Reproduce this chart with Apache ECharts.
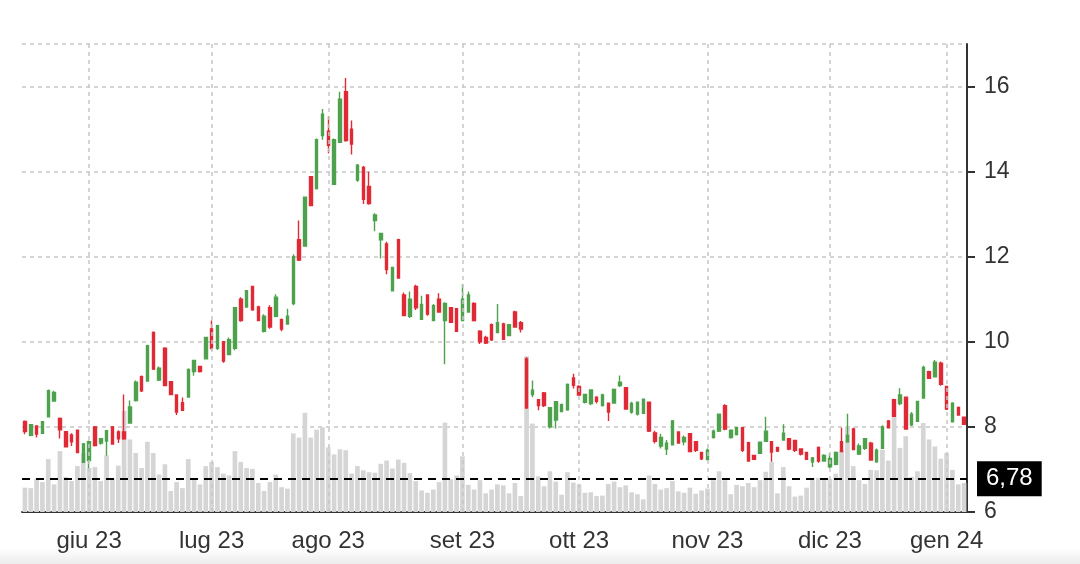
<!DOCTYPE html>
<html>
<head>
<meta charset="utf-8">
<title>Grafico</title>
<script src="https://cdn.jsdelivr.net/npm/echarts/dist/echarts.min.js"></script>
<style>
html, body { margin: 0; padding: 0; background: #fff; }
#chart { width: 1080px; height: 564px; }
</style>
</head>
<body>
<div id="chart"></div>
<script>
// giorni di borsa (lun-ven, esclusi i festivi)
var festivi = ['2023-05-29', '2023-06-19', '2023-07-04', '2023-09-04', '2023-11-23', '2023-12-25', '2024-01-01'];
var mesi = ['gen', 'feb', 'mar', 'apr', 'mag', 'giu', 'lug', 'ago', 'set', 'ott', 'nov', 'dic'];

var giorni = [];
for (var d = new Date(Date.UTC(2023, 4, 16)); d <= new Date(Date.UTC(2024, 0, 5)); d.setUTCDate(d.getUTCDate() + 1)) {
    var s = d.toISOString().slice(0, 10);
    if (d.getUTCDay() === 0 || d.getUTCDay() === 6 || festivi.indexOf(s) >= 0) continue;
    giorni.push(s);
}

// prezzi
var aperture = [8.13, 7.80, 8.02, 7.85, 8.24, 8.61, 8.20, 7.89, 7.81, 7.92, 7.17, 7.21, 8.00, 7.62, 7.67, 8.00, 7.88, 7.88, 8.09, 8.62,
    9.18, 9.08, 10.22, 9.10, 9.85, 9.06, 8.75, 8.57, 8.70, 9.30, 9.42, 9.60, 10.30, 9.85, 10.00, 9.70, 9.85, 11.00, 10.82, 11.30,
    10.82, 10.25, 10.80, 10.60, 10.52, 10.42, 10.90, 12.40, 12.25, 13.88, 13.60, 14.85, 14.95, 13.70, 14.69, 15.88, 15.00, 13.80, 14.10, 13.65,
    12.85, 12.40, 12.30, 11.20, 12.40, 11.10, 10.60, 11.30, 10.53, 11.10, 10.50, 11.00, 10.50, 10.80, 10.78, 10.50, 10.70, 10.90, 10.25, 10.10,
    10.40, 10.22, 10.42, 10.15, 10.70, 10.45, 9.60, 8.76, 8.64, 8.80, 8.00, 8.16, 8.36, 8.40, 9.15, 8.95, 8.58, 8.55, 8.70, 8.50,
    8.56, 8.56, 8.97, 8.92, 8.35, 8.30, 8.32, 8.58, 7.86, 7.55, 7.48, 7.58, 7.88, 7.65, 7.84, 7.65, 7.40, 7.23, 7.75, 7.90,
    8.50, 7.75, 7.82, 7.98, 7.63, 7.33, 7.38, 7.66, 7.65, 7.52, 7.69, 7.72, 7.68, 7.48, 7.40, 7.18, 7.52, 7.20, 7.06, 7.12,
    7.65, 7.65, 7.95, 7.36, 7.50, 7.62, 7.18, 7.50, 8.14, 8.64, 8.55, 8.70, 8.05, 8.13, 8.68, 9.30, 9.18, 9.50, 8.95, 8.12,
    8.46, 8.23];
var chiusure = [7.89, 8.05, 7.83, 8.12, 8.85, 8.81, 7.93, 7.53, 7.65, 7.40, 7.60, 7.65, 7.56, 7.72, 7.91, 7.60, 7.72, 7.72, 8.47, 9.05,
    8.85, 9.91, 9.36, 9.38, 8.97, 8.76, 8.35, 8.39, 9.35, 9.56, 9.30, 10.10, 9.85, 10.38, 9.55, 10.05, 10.80, 10.50, 11.20, 10.75,
    10.50, 10.60, 10.35, 11.05, 10.30, 10.60, 12.00, 11.92, 13.40, 13.20, 14.75, 15.35, 14.62, 14.75, 15.70, 14.73, 14.65, 14.15, 13.35, 13.25,
    12.98, 12.55, 11.70, 11.75, 11.50, 10.62, 11.00, 10.80, 10.88, 10.65, 10.85, 10.70, 10.90, 10.46, 10.25, 11.00, 11.10, 10.50, 10.00, 9.97,
    10.05, 10.45, 10.06, 10.40, 10.35, 10.30, 8.45, 8.86, 8.50, 8.50, 8.45, 8.59, 8.52, 9.00, 8.98, 8.75, 8.76, 8.87, 8.60, 8.75,
    8.35, 8.88, 9.05, 8.42, 8.55, 8.58, 8.65, 7.90, 7.66, 7.75, 7.62, 8.14, 7.62, 7.75, 7.42, 7.45, 7.25, 7.45, 7.90, 8.30,
    7.95, 7.92, 7.98, 7.45, 7.20, 7.24, 7.64, 7.90, 7.41, 7.43, 7.85, 7.48, 7.45, 7.36, 7.24, 7.27, 7.20, 7.33, 7.26, 7.40,
    7.42, 7.80, 7.47, 7.55, 7.72, 7.22, 7.45, 8.00, 7.98, 8.25, 8.75, 7.95, 8.30, 8.60, 9.40, 9.14, 9.52, 9.00, 8.42, 8.56,
    8.28, 8.06];
var minimi = [7.83, 7.78, 7.75, 7.84, 8.22, 8.60, 7.73, 7.52, 7.55, 7.38, 7.15, 7.02, 7.54, 7.58, 7.32, 7.58, 7.62, 7.70, 8.08, 8.60,
    8.82, 9.07, 9.34, 9.08, 8.96, 8.75, 8.28, 8.38, 8.69, 9.20, 9.28, 9.59, 9.80, 9.81, 9.51, 9.69, 9.80, 10.47, 10.80, 10.73,
    10.49, 10.22, 10.31, 10.58, 10.25, 10.40, 10.86, 11.90, 12.24, 13.19, 13.58, 14.75, 14.43, 13.69, 14.68, 14.70, 14.40, 13.76, 13.24, 13.22,
    12.60, 11.96, 11.59, 11.20, 11.49, 10.61, 10.56, 10.75, 10.51, 10.61, 10.49, 10.69, 9.47, 10.45, 10.24, 10.49, 10.69, 10.48, 9.95, 9.95,
    10.02, 10.21, 10.05, 10.14, 10.34, 10.22, 8.42, 8.70, 8.39, 8.47, 7.96, 7.96, 8.35, 8.38, 8.90, 8.74, 8.55, 8.51, 8.55, 8.48,
    8.14, 8.55, 8.94, 8.41, 8.31, 8.27, 8.31, 7.88, 7.61, 7.49, 7.34, 7.57, 7.61, 7.57, 7.41, 7.41, 7.22, 7.22, 7.73, 7.88,
    7.92, 7.73, 7.80, 7.41, 7.18, 7.22, 7.37, 7.65, 7.18, 7.41, 7.68, 7.45, 7.41, 7.33, 7.22, 7.06, 7.16, 7.18, 7.03, 7.10,
    7.41, 7.63, 7.46, 7.34, 7.46, 7.21, 7.16, 7.49, 7.96, 8.23, 8.51, 7.94, 8.02, 8.12, 8.66, 9.13, 9.17, 8.97, 8.40, 8.12,
    8.27, 8.06];
var massimi = [8.15, 8.07, 8.04, 8.14, 8.88, 8.85, 8.22, 7.90, 7.85, 7.93, 7.62, 7.68, 8.02, 7.74, 7.92, 8.02, 7.92, 8.76, 8.62, 9.09,
    9.21, 9.93, 10.24, 9.42, 9.87, 9.08, 8.77, 8.69, 9.37, 9.57, 9.44, 10.12, 10.50, 10.40, 10.02, 10.10, 10.82, 11.05, 11.22, 11.32,
    10.85, 10.65, 10.86, 11.12, 10.55, 10.78, 12.06, 12.85, 13.41, 13.90, 14.78, 15.47, 15.30, 14.78, 15.88, 16.20, 15.20, 14.18, 14.13, 14.00,
    13.02, 12.56, 12.35, 11.76, 12.42, 11.16, 11.18, 11.34, 11.08, 11.12, 10.89, 11.14, 10.93, 10.81, 10.79, 11.36, 11.18, 10.93, 10.27, 10.14,
    10.43, 10.89, 10.45, 10.42, 10.73, 10.49, 9.64, 9.09, 8.65, 8.82, 8.47, 8.60, 8.55, 9.02, 9.25, 8.98, 8.78, 8.88, 8.72, 8.78,
    8.57, 8.90, 9.21, 8.94, 8.59, 8.59, 8.66, 8.59, 7.91, 7.84, 7.69, 8.16, 7.89, 7.80, 7.85, 7.66, 7.41, 7.49, 7.94, 8.31,
    8.53, 7.94, 8.00, 7.99, 7.65, 7.34, 7.65, 8.24, 7.66, 7.53, 8.06, 7.73, 7.69, 7.49, 7.41, 7.29, 7.54, 7.36, 7.38, 7.42,
    7.98, 8.31, 7.98, 7.61, 7.74, 7.65, 7.49, 8.04, 8.16, 8.66, 8.91, 8.70, 8.35, 8.61, 9.44, 9.32, 9.57, 9.54, 8.97, 8.58,
    8.48, 8.23];
// volumi (migliaia)
var volumi = [52, 51, 71, 64, 113, 59, 130, 75, 66, 98, 126, 94, 96, 66, 121, 72, 99, 216, 155, 126,
    94, 150, 126, 80, 102, 45, 64, 51, 113, 69, 59, 98, 107, 96, 82, 78, 130, 107, 94, 92,
    62, 45, 64, 80, 53, 50, 168, 159, 212, 159, 176, 181, 138, 123, 134, 132, 82, 98, 89, 85,
    84, 103, 110, 93, 112, 105, 83, 66, 46, 41, 48, 64, 191, 70, 78, 119, 58, 48, 68, 40,
    48, 59, 57, 40, 62, 34, 333, 189, 76, 55, 87, 65, 37, 85, 63, 59, 41, 42, 34, 35,
    60, 65, 53, 57, 42, 38, 27, 78, 60, 48, 51, 66, 44, 41, 52, 39, 46, 50, 68, 87,
    68, 38, 58, 55, 62, 53, 68, 86, 107, 40, 96, 55, 33, 35, 52, 72, 73, 71, 71, 82,
    132, 183, 98, 68, 60, 90, 89, 133, 110, 203, 137, 162, 75, 87, 190, 155, 140, 114, 126, 90,
    59, 62];
var livello = 6.78;

var verde = '#4ea24e';
var rosso = '#e02a36';
var griglia = '#c6c6c6';

function inizioMese(i) {
    return i > 0 && giorni[i].slice(5, 7) !== giorni[i - 1].slice(5, 7);
}
function etichetta(v) {
    return mesi[parseInt(v.slice(5, 7), 10) - 1] + ' ' + v.slice(2, 4);
}

var candele = giorni.map(function (g, i) {
    return [aperture[i], chiusure[i], minimi[i], massimi[i]];
});
var lineeMesi = giorni.filter(function (g, i) { return inizioMese(i); })
    .map(function (g) { return { xAxis: g }; });

var chart = echarts.init(document.getElementById('chart'));
var font = '"Liberation Sans", Arial, sans-serif';

var option = {
    animation: false,
    backgroundColor: '#fff',
    graphic: [{
        type: 'rect', left: 0, top: 548, z: -10,
        shape: { width: 1080, height: 16 },
        style: { fill: new echarts.graphic.LinearGradient(0, 0, 0, 1, [
            { offset: 0, color: '#ffffff' }, { offset: 1, color: '#ececec' }]) }
    }],
    grid: { left: 22, right: 113, top: 44, bottom: 52 },
    xAxis: {
        type: 'category',
        data: giorni,
        boundaryGap: true,
        axisLine: { lineStyle: { color: '#333', width: 2 } },
        axisTick: { alignWithLabel: true, interval: inizioMese, length: 8, lineStyle: { color: '#333', width: 2 } },
        axisLabel: { interval: inizioMese, formatter: etichetta, fontSize: 24, color: '#333', margin: 17, fontFamily: font },
        splitLine: { show: false }
    },
    yAxis: [{
        type: 'value',
        position: 'right',
        min: 6,
        max: 17,
        interval: 2,
        axisLine: { show: true, lineStyle: { color: '#333', width: 2 } },
        axisTick: { show: true, length: 8, lineStyle: { color: '#333', width: 2 } },
        axisLabel: { fontSize: 23, color: '#333', margin: 17, showMaxLabel: false, fontFamily: font },
        splitLine: { show: true, lineStyle: { color: griglia, type: [4, 4], width: 1.5 } }
    }, {
        type: 'value',
        min: 0,
        max: 1000,
        show: false
    }],
    series: [{
        name: 'Volume',
        type: 'bar',
        yAxisIndex: 1,
        data: volumi,
        barWidth: '80%',
        itemStyle: { color: '#d5d5d5' },
        z: 1,
        markLine: {
            silent: true,
            symbol: 'none',
            label: { show: false },
            lineStyle: { color: griglia, type: [4, 4], width: 1.5 },
            data: lineeMesi
        }
    }, {
        name: 'Prezzo',
        type: 'candlestick',
        data: candele,
        barWidth: 3,
        z: 3,
        itemStyle: {
            color: verde, color0: rosso,
            borderColor: verde, borderColor0: rosso,
            borderWidth: 1.4
        },
        markLine: {
            silent: true,
            symbol: 'none',
            data: [{
                yAxis: livello,
                lineStyle: { color: '#000', type: [8, 6], width: 2 },
                label: {
                    show: true, position: 'end', distance: 10,
                    formatter: function () { return String(livello).replace('.', ','); },
                    color: '#fff', backgroundColor: '#000',
                    fontSize: 24, fontFamily: font, padding: [6, 9, 5, 9]
                }
            }]
        }
    }]
};

chart.setOption(option);
</script>
</body>
</html>
